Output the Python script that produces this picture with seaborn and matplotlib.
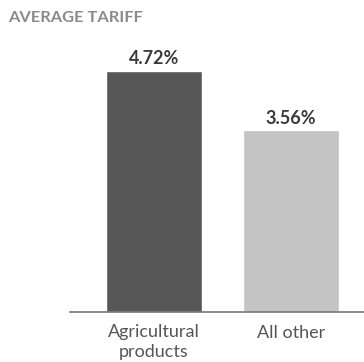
import matplotlib
matplotlib.use("Agg")
import matplotlib.pyplot as plt
import seaborn as sns
import pandas as pd

categories = ["Agricultural\nproducts", "All other"]
tariffs = [4.72, 3.56]
bar_colors = ["#575757", "#c4c4c4"]

sns.set_theme(style="white")
plt.rcParams["font.family"] = ["Lato", "DejaVu Sans"]

df = pd.DataFrame({"category": categories, "tariff": tariffs})

fig = plt.figure(figsize=(3.64, 3.62), dpi=100)
ax = fig.add_axes([70 / 364, 50 / 362, 294 / 364, 272 / 362])

sns.barplot(data=df, x="category", y="tariff", hue="category",
            palette=bar_colors, width=0.70, legend=False, ax=ax,
            saturation=1)

for p, v in zip(ax.patches, tariffs):
    ax.text(p.get_x() + p.get_width() / 2, v + 0.07, f"{v:.2f}%",
            ha="center", va="bottom", fontsize=13, fontweight="bold",
            color="#3a3a3a")

ax.set_xlim(-0.613, 1.533)
ax.set_ylim(0, 5.327)
ax.set_xlabel("")
ax.set_ylabel("")
ax.set_yticks([])
ax.tick_params(axis="x", length=0, pad=9, labelsize=13, labelcolor="#555555")
for lbl in ax.get_xticklabels():
    lbl.set_linespacing(1.25)
for s in ["left", "right", "top"]:
    ax.spines[s].set_visible(False)
ax.spines["bottom"].set_color("#777777")
ax.spines["bottom"].set_linewidth(1.2)

fig.text(8 / 364, 1 - 18 / 362, "AVERAGE TARIFF", ha="left", va="center",
         fontsize=11.8, fontweight="bold", color="#8a8a8a")

fig.savefig("out.png", dpi=100)
